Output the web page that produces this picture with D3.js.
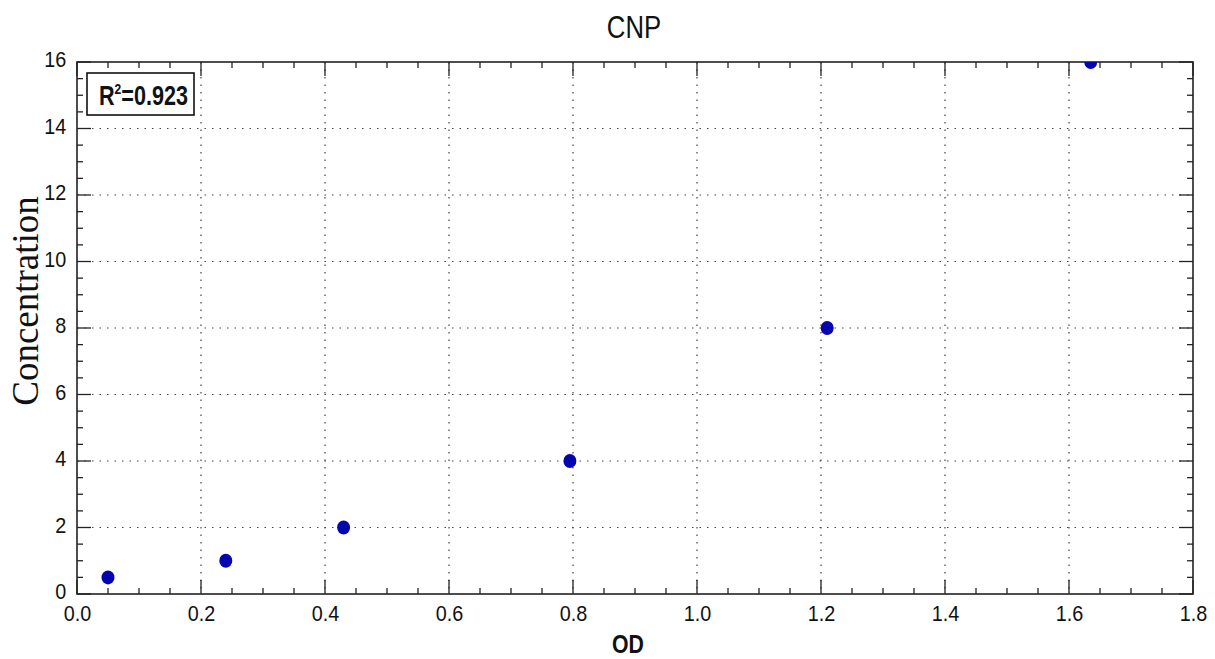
<!DOCTYPE html>
<html>
<head>
<meta charset="utf-8">
<script src="https://cdn.jsdelivr.net/npm/d3@7"></script>
<style>
  body { margin: 0; background: #fff; }
  text { font-family: "Liberation Sans", Arial, sans-serif; fill: #111; }
</style>
</head>
<body>
<div id="chart"></div>
<script>
// data
var odValues = [0.05, 0.24, 0.43, 0.795, 1.21, 1.635];
var concValues = [0.5, 1, 2, 4, 8, 16];
var xTicks = [0.0, 0.2, 0.4, 0.6, 0.8, 1.0, 1.2, 1.4, 1.6, 1.8];
var yTicks = [0, 2, 4, 6, 8, 10, 12, 14, 16];
var rSquared = "0.923";

var width = 1215, height = 659;
var margin = {top: 62, right: 22, bottom: 65, left: 77};
var w = width - margin.left - margin.right;
var h = height - margin.top - margin.bottom;

var svg = d3.select("#chart").append("svg")
    .attr("width", width)
    .attr("height", height);

var g = svg.append("g")
    .attr("transform", "translate(" + margin.left + "," + margin.top + ")");

var x = d3.scaleLinear().domain([0, 1.8]).range([0, w]);
var y = d3.scaleLinear().domain([0, 16]).range([h, 0]);

// dotted grid
g.append("g").selectAll("line").data(xTicks.slice(1, -1))
  .enter().append("line")
    .attr("x1", function(d) { return x(d); }).attr("x2", function(d) { return x(d); })
    .attr("y1", 0).attr("y2", h)
    .attr("stroke", "#444").attr("stroke-width", 1.2).attr("stroke-dasharray", "1.5,6");
g.append("g").selectAll("line").data(yTicks.slice(1, -1))
  .enter().append("line")
    .attr("y1", function(d) { return y(d); }).attr("y2", function(d) { return y(d); })
    .attr("x1", 0).attr("x2", w)
    .attr("stroke", "#444").attr("stroke-width", 1.2).attr("stroke-dasharray", "1.5,6");

// minor + major ticks, inside, all four sides
var xMinor = d3.range(0, 1.8001, 0.05);
var yMinor = d3.range(0, 16.001, 0.5);
function isMajor(v, step) { return Math.abs(v / step - Math.round(v / step)) < 1e-6; }

var ticks = g.append("g").attr("stroke", "#222").attr("stroke-width", 1.3);
xMinor.forEach(function(v) {
  var len = isMajor(v, 0.2) ? 14 : 6;
  ticks.append("line").attr("x1", x(v)).attr("x2", x(v)).attr("y1", h).attr("y2", h - len);
  ticks.append("line").attr("x1", x(v)).attr("x2", x(v)).attr("y1", 0).attr("y2", len);
});
yMinor.forEach(function(v) {
  var len = isMajor(v, 2) ? 14 : 6;
  ticks.append("line").attr("y1", y(v)).attr("y2", y(v)).attr("x1", 0).attr("x2", len);
  ticks.append("line").attr("y1", y(v)).attr("y2", y(v)).attr("x1", w).attr("x2", w - len);
});

// frame
g.append("rect").attr("width", w).attr("height", h)
  .attr("fill", "none").attr("stroke", "#222").attr("stroke-width", 1.6);

// tick labels via axes (lines hidden), slightly condensed
var xAxis = g.append("g").attr("transform", "translate(0," + h + ")")
  .call(d3.axisBottom(x).tickValues(xTicks).tickFormat(d3.format(".1f")).tickSize(0).tickPadding(11));
var yAxis = g.append("g")
  .call(d3.axisLeft(y).tickValues(yTicks).tickFormat(d3.format("d")).tickSize(0).tickPadding(12));
[xAxis, yAxis].forEach(function(a) {
  a.select(".domain").remove();
  a.selectAll("text").attr("font-size", 22).attr("fill", "#111")
    .style("font-family", "'Liberation Sans', Arial, sans-serif")
    .attr("transform", "scale(0.9,1)");
});
yAxis.selectAll("text").attr("dy", "0.22em");

// points
svg.append("clipPath").attr("id", "clip").append("rect").attr("width", w).attr("height", h);
g.append("g").attr("clip-path", "url(#clip)")
  .selectAll("ellipse").data(odValues)
  .enter().append("ellipse")
    .attr("cx", function(d) { return x(d); })
    .attr("cy", function(d, i) { return y(concValues[i]); })
    .attr("rx", 6.5).attr("ry", 7)
    .attr("fill", "#0505b0");

// R^2 box
g.append("rect").attr("x", 10).attr("y", 11).attr("width", 107).attr("height", 42)
  .attr("fill", "#fff").attr("stroke", "#111").attr("stroke-width", 1.6);
var rt = g.append("text").attr("transform", "translate(22,43) scale(0.8,1)")
  .attr("font-size", 27).attr("font-weight", "bold");
rt.append("tspan").text("R");
rt.append("tspan").attr("font-size", 15).attr("dy", -11).text("2");
rt.append("tspan").attr("dy", 11).text("=" + rSquared);

// title and axis labels
svg.append("text").attr("transform", "translate(634,38) scale(0.83,1)")
  .attr("text-anchor", "middle").attr("font-size", 31).text("CNP");
svg.append("text").attr("transform", "translate(628,653) scale(0.85,1)")
  .attr("text-anchor", "middle").attr("font-size", 25).attr("font-weight", "bold").text("OD");
svg.append("text")
  .attr("transform", "translate(38,301) rotate(-90)")
  .attr("text-anchor", "middle").attr("font-size", 37)
  .style("font-family", "'Liberation Serif', 'Times New Roman', serif").text("Concentration");
</script>
</body>
</html>
